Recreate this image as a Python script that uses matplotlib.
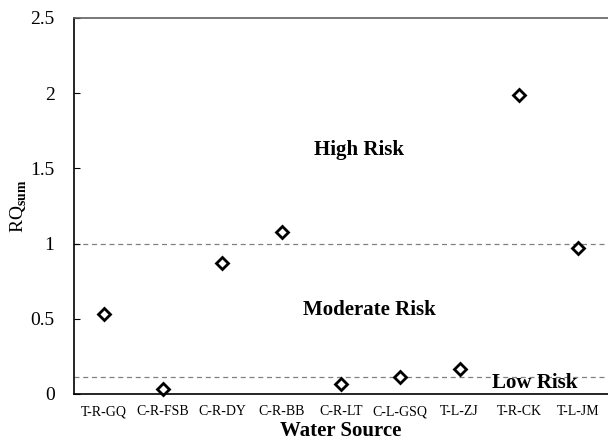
import matplotlib
matplotlib.use('Agg')
import matplotlib.pyplot as plt

plt.rcParams['font.family'] = 'Liberation Serif'
plt.rcParams['mathtext.fontset'] = 'custom'
plt.rcParams['mathtext.rm'] = 'Liberation Serif'
plt.rcParams['mathtext.bf'] = 'Liberation Serif:bold'

sources = ['T-R-GQ', 'C-R-FSB', 'C-R-DY', 'C-R-BB', 'C-R-LT', 'C-L-GSQ', 'T-L-ZJ', 'T-R-CK', 'T-L-JM']
rq_sum = [0.53, 0.035, 0.87, 1.08, 0.065, 0.11, 0.165, 1.99, 0.97]
thresholds = [1.0, 0.115]

fig = plt.figure(figsize=(6.08, 4.41), dpi=100)
ax = fig.add_axes([74/608, 1 - 394/441, 1 - 74/608, (394 - 18)/441])

x = list(range(1, len(sources) + 1))
ax.plot(x, rq_sum, linestyle='none', marker='D', markersize=6.5,
        markerfacecolor='white', markeredgecolor='black', markeredgewidth=2,
        clip_on=False)

for t in thresholds:
    ax.axhline(t, color='#808080', linestyle=(0, (4, 3)), linewidth=0.9, zorder=0)

ax.set_xlim(0.5, len(sources) + 0.5)
ax.set_ylim(0, 2.5)
ax.set_xticks(x)
ax.set_xticklabels(sources, fontsize=10)
ax.set_yticks([0, 0.5, 1, 1.5, 2, 2.5])
ax.set_yticklabels(['0', '0.5', '1', '1.5', '2', '2.5'], fontsize=14)
ax.tick_params(axis='x', length=0, pad=8)
ax.tick_params(axis='y', direction='in', length=4, pad=14)

ax.spines['right'].set_visible(False)
ax.spines['top'].set_color('#606060')
ax.spines['top'].set_linewidth(1.2)
ax.spines['left'].set_linewidth(1.2)
ax.spines['bottom'].set_linewidth(1.2)

ax.set_xlabel('Water Source', fontsize=15, fontweight='bold', labelpad=2)
ax.set_ylabel(r'RQ$_{\mathbf{sum}}$', fontsize=14, labelpad=1)

ax.text(5.3, 1.62, 'High Risk', fontsize=15, fontweight='bold', ha='center', va='center')
ax.text(5.47, 0.56, 'Moderate Risk', fontsize=15, fontweight='bold', ha='center', va='center')
ax.text(8.27, 0.07, 'Low Risk', fontsize=15, fontweight='bold', ha='center', va='center')

fig.savefig('out.png', dpi=100)
